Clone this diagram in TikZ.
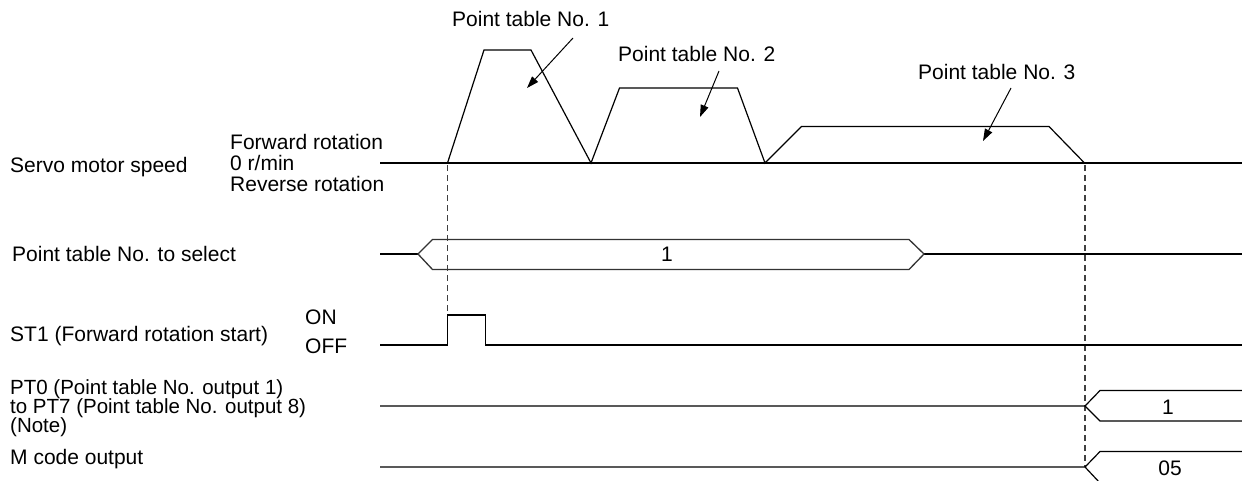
\documentclass[tikz,border=0pt]{standalone}
\usepackage{fontspec}
\setmainfont{Liberation Sans}
\usetikzlibrary{arrows.meta}
\begin{document}
\begin{tikzpicture}[x=1pt,y=-1pt,
  lbl/.style={anchor=base west, inner sep=0pt, font=\fontsize{21}{21}\selectfont},
  val/.style={anchor=base, inner sep=0pt, font=\fontsize{21}{21}\selectfont},
  wave/.style={line width=1.2pt, line join=miter},
  hexline/.style={line width=1.3pt, black!80},
  guide/.style={line width=1.1pt, black!75, dash pattern=on 6pt off 4pt},
  pointer/.style={line width=1pt, -{Triangle[length=12pt,width=8pt]}}]
\useasboundingbox (0,0) rectangle (1242,480);
\clip (0,0) rectangle (1242,480);
\fill[white] (0,0) rectangle (1242,480);

% labels
\node[lbl] (sp) at (10,172.5) {Servo motor speed};
\node[lbl] (fw) at (230,149) {Forward rotation};
\node[lbl] (zr) at (230,170.5) {0 r/min};
\node[lbl] (rv) at (230,191) {Reverse rotation};
\node[lbl] (sel) at (12,261.5) {Point table No. to select};
\node[lbl] (st) at (10,341.5) {ST1 (Forward rotation start)};
\node[lbl] (on) at (305,324.3) {ON};
\node[lbl] (off) at (305,353) {OFF};
\node[lbl, font=\fontsize{20.5}{19}\selectfont] (pt) at (10,394) {\vtop{\baselineskip=19pt\lineskiplimit=-50pt\lineskip=0pt
  \hbox{PT0 (Point table No. output 1)}\hbox{to PT7 (Point table No. output 8)}\hbox{(Note)}}};
\node[lbl] (mc) at (10,464) {M code output};

\node[lbl] (t1) at (452,26.7) {Point table No. 1};
\node[lbl] (t2) at (618,61) {Point table No. 2};
\node[lbl] (t3) at (918,79.3) {Point table No. 3};

\node[val] (v1) at (667,261.5) {1};
\node[val] (v2) at (1168,414) {1};
\node[val] (v3) at (1170,475) {05};

% pointers
\coordinate (a1s) at (573,38);  \coordinate (a1e) at (527,88);
\coordinate (a2s) at (719,71);  \coordinate (a2e) at (700,117);
\coordinate (a3s) at (1011,88); \coordinate (a3e) at (983,141);
\draw[pointer] (a1s) -- (a1e);
\draw[pointer] (a2s) -- (a2e);
\draw[pointer] (a3s) -- (a3e);

% dashed guides
\draw[guide] (447.5,165) -- (447.5,315);
\draw[guide] (1085,165) -- (1085,467);

% servo motor speed
\draw[wave] (380,163) -- (1242,163);
\draw[wave] (447.5,163) -- (484,50) -- (531,50) -- (591,163) -- (619.5,88) -- (737.5,88)
  -- (765,163) -- (801.5,126.5) -- (1049,126.5) -- (1084.5,163);

% point table to select
\draw[wave] (380,254) -- (418,254);
\draw[wave] (924,254) -- (1242,254);
\draw[hexline] (418,254) -- (432.5,239.5) -- (909,239.5) -- (924,254) -- (909,269.5) -- (432.5,269.5) -- cycle;

% ST1
\draw[wave] (380,345) -- (447.5,345) -- (447.5,315) -- (485.5,315) -- (485.5,345) -- (1242,345);

% PT output
\draw[wave] (380,406) -- (1085,406) -- (1100,390.5) -- (1242,390.5);
\draw[wave] (1085,406) -- (1100,421) -- (1242,421);

% M code
\draw[wave] (380,467) -- (1085,467) -- (1100,451.5) -- (1242,451.5);
\draw[wave] (1085,467) -- (1100,483) -- (1242,483);
\end{tikzpicture}
\end{document}
